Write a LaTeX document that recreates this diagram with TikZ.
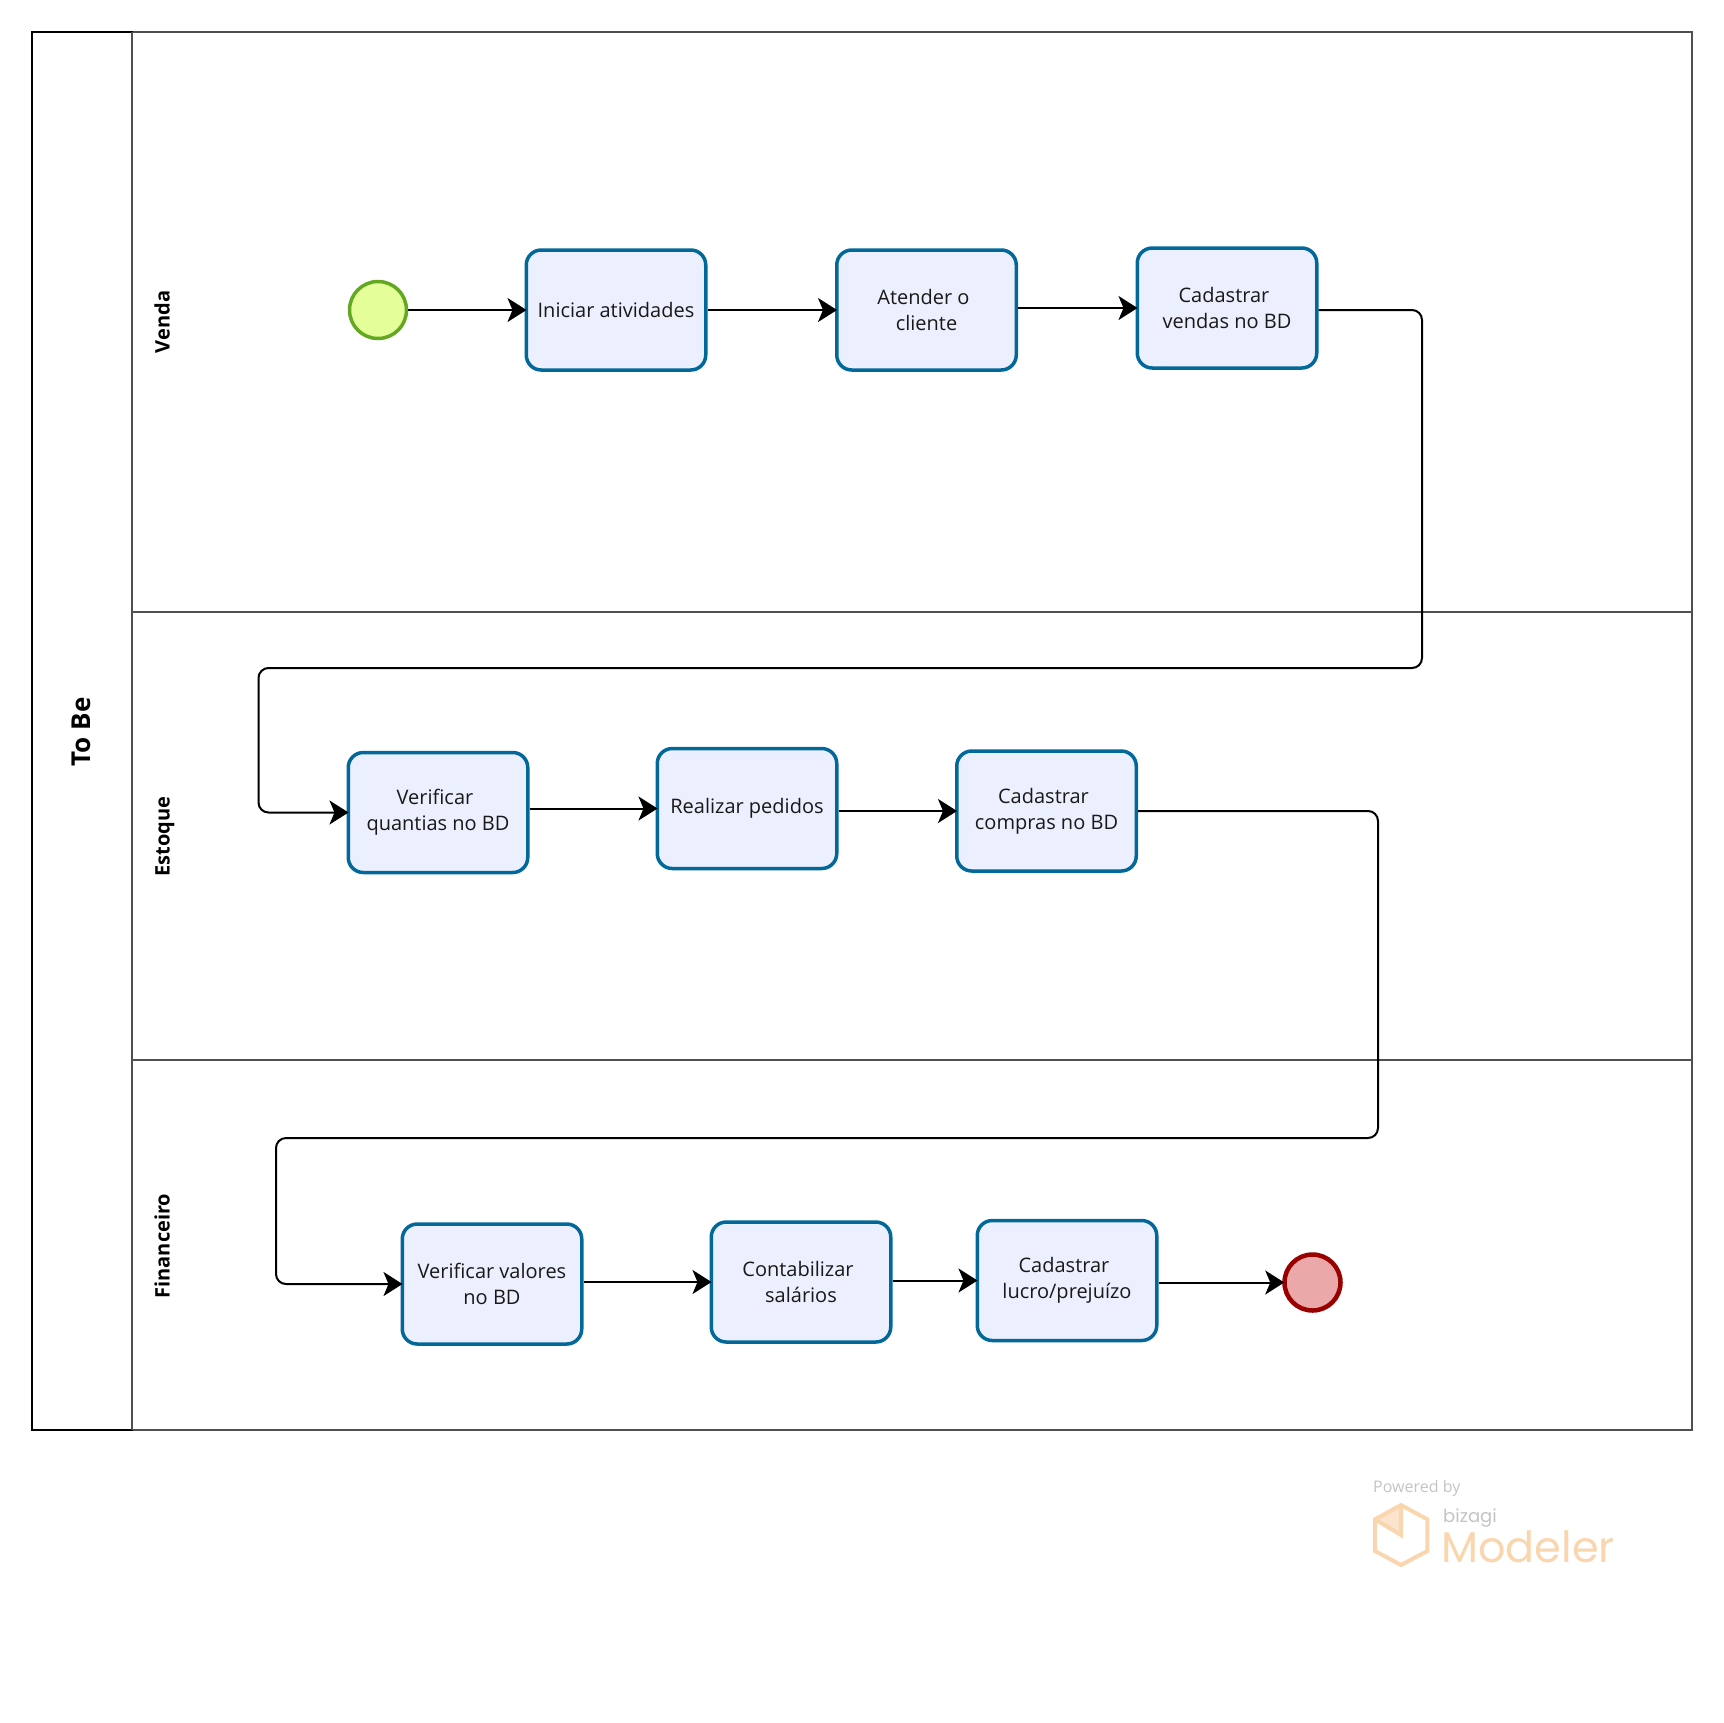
\documentclass[tikz,border=0pt]{standalone}
\usepackage{fontspec}
\setmainfont{Open Sans}
\newfontfamily\logofont{Poppins}
\usetikzlibrary{arrows.meta,calc}
\definecolor{taskline}{HTML}{02689A}
\definecolor{taskfill}{HTML}{ECEFFD}
\definecolor{startline}{HTML}{63A820}
\definecolor{startfill}{HTML}{E4FF99}
\definecolor{endline}{HTML}{990000}
\definecolor{endfill}{HTML}{EBA8A8}
\definecolor{lanegray}{HTML}{505050}
\definecolor{logoorange}{HTML}{FAD6AE}
\definecolor{logolight}{HTML}{FBE3CC}
\definecolor{logogray}{HTML}{C4C4C8}
\newcommand\pad{\kern6pt}
\tikzset{
  x=1pt,y=-1pt,
  task/.style={draw=taskline,fill=taskfill,line width=3.5pt,rounded corners=15pt,minimum width=179.5pt,minimum height=120pt,inner sep=0pt,align=center,font=\fontsize{20}{26}\selectfont,text=black!90},
  startev/.style={circle,draw=startline,fill=startfill,line width=3.5pt,minimum size=57pt,inner sep=0pt},
  endev/.style={circle,draw=endline,fill=endfill,line width=4.5pt,minimum size=56pt,inner sep=0pt},
  flow/.style={draw=black,line width=2pt,shorten >=-2pt,-{Stealth[length=19pt,width=24pt,inset=5pt]}},
  route/.style={flow,rounded corners=10pt},
  lanelabel/.style={rotate=90,anchor=base,font=\bfseries\fontsize{20}{24}\selectfont},
  lane/.style={draw=lanegray,line width=2pt},
}
\begin{document}
\begin{tikzpicture}
\useasboundingbox (0,0) rectangle (1724,1722);
% pool
\draw[lane] (132,32) rectangle (1692,1430);
\draw[lane] (132,612) -- (1692,612);
\draw[lane] (132,1060) -- (1692,1060);
\draw[draw=black,line width=2pt] (32,32) rectangle (132,1430);
\draw[lane] (132,32) -- (132,1430);
\node[rotate=90,font=\bfseries\fontsize{26}{30}\selectfont] (pool) at (81,732) {To Be};
\node[lanelabel] (l1) at (169.5,322) {Venda};
\node[lanelabel] (l2) at (169.5,836.5) {Estoque};
\node[lanelabel] (l3) at (169.5,1246) {Financeiro};
% events and tasks
\node[startev] (s) at (378,310) {};
\node[task] (a) at (616,310) {Iniciar atividades};
\node[task] (b) at (926.5,310) {Atender o\pad\\cliente};
\node[task] (c) at (1227,308) {Cadastrar\pad\\vendas no BD};
\node[task] (d) at (438,812.5) {Verificar\pad\\quantias no BD};
\node[task] (e) at (747,808.5) {Realizar pedidos};
\node[task] (f) at (1046.5,811) {Cadastrar\pad\\compras no BD};
\node[task] (g) at (492,1284) {Verificar valores\\no BD};
\node[task] (h) at (801,1282) {Contabilizar\pad\\salários};
\node[task] (i) at (1067,1280.5) {Cadastrar\pad\\lucro/prejuízo};
\node[endev] (t) at (1312.5,1282.5) {};
% route waypoints
\coordinate (r1) at (1422,668);
\coordinate (r2) at (258.5,668);
\coordinate (r3) at (1378,1138);
\coordinate (r4) at (276,1138);
% connectors
\draw[flow] (s.east) -- (a.west);
\draw[flow] (a.east) -- (b.west);
\draw[flow] (b.east |- c.west) -- (c.west);
\draw[route] ([yshift=-2pt]c.east) -| (r1) -- (r2) |- (d.west);
\draw[flow] (d.east |- e.west) -- (e.west);
\draw[flow] (e.east |- f.west) -- (f.west);
\draw[route] (f.east) -| (r3) -- (r4) |- (g.west);
\draw[flow] (g.east |- h.west) -- (h.west);
\draw[flow] (h.east |- i.west) -- (i.west);
\draw[flow] (i.east |- t.west) -- (t.west);
% logo
\fill[logolight] (1401,1505) -- (1375,1519.3) -- (1401,1535) -- cycle;
\draw[logoorange,line width=4pt,line join=miter] (1401,1505) -- (1427.3,1519.3) -- (1427.3,1551) -- (1401,1565) -- (1375,1551) -- (1375,1519.3) -- cycle;
\draw[logoorange,line width=4pt] (1375,1519.3) -- (1401,1535) -- (1401,1505);
\node[anchor=base west,inner sep=0pt,text=logogray,font=\fontsize{16}{18}\selectfont] (pw) at (1373,1492) {Powered by};
\node[anchor=base west,inner sep=0pt,text=logogray,font=\logofont\fontsize{18}{22}\selectfont] (bz) at (1443,1522) {bizagi};
\node[anchor=base west,inner sep=0pt,text=logoorange,font=\logofont\fontsize{43}{50}\selectfont] (md) at (1441,1562) {Modeler};
\end{tikzpicture}
\end{document}
